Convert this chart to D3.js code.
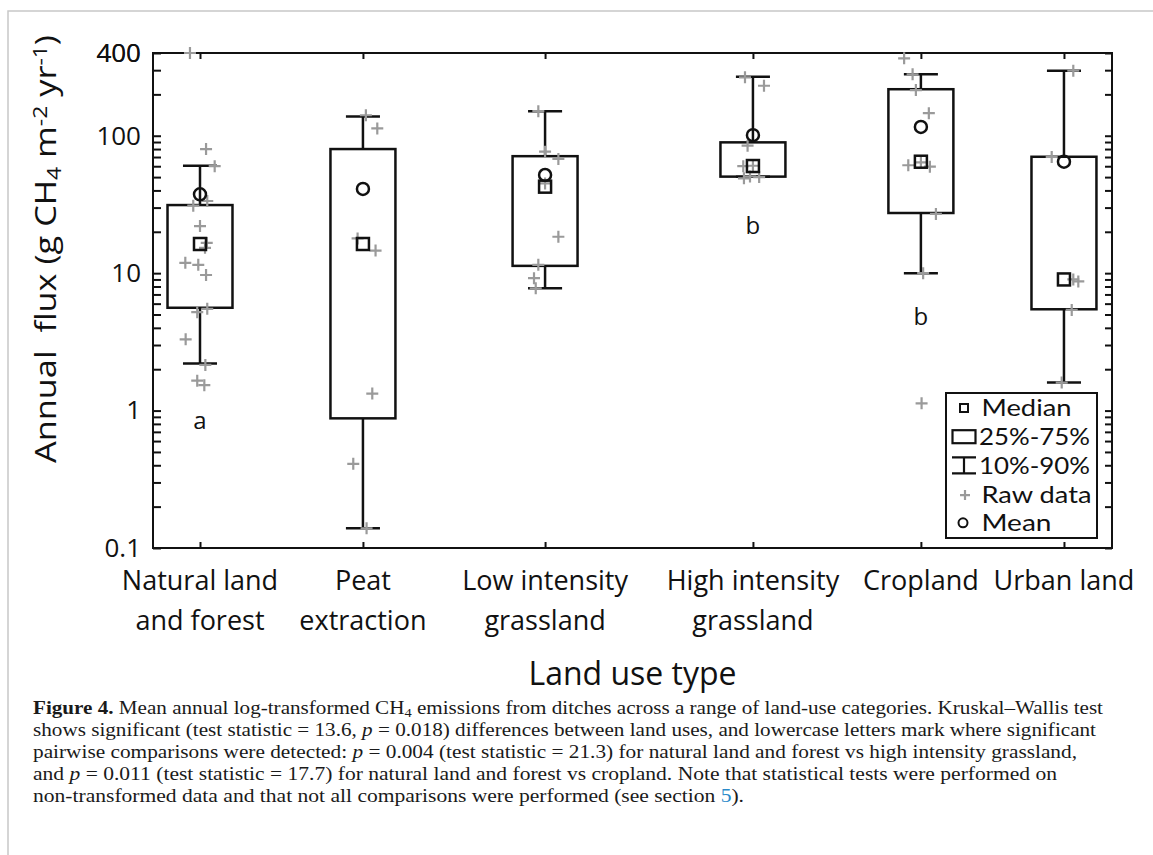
<!DOCTYPE html>
<html>
<head>
<meta charset="utf-8">
<script src="https://cdn.jsdelivr.net/npm/d3@7"></script>
<style>
  html, body { margin: 0; padding: 0; background: #fff; }
  svg { display: block; }
</style>
</head>
<body>
<svg id="chart" width="1153" height="855"></svg>
<script>
// ---------------- DATA ----------------
const categories = [
  ["Natural land", "and forest"],
  ["Peat", "extraction"],
  ["Low intensity", "grassland"],
  ["High intensity", "grassland"],
  ["Cropland"],
  ["Urban land"]
];
// category positions along the x axis (axis units)
const catPos = [1.0, 1.943, 2.997, 4.2, 5.172, 6.0];

// box statistics (g CH4 m-2 yr-1)
const p10    = [2.2,  0.139, 7.75, 50.4, 10.0, 1.6];
const q25    = [5.6,  0.878, 11.3, 50.4, 27.4, 5.46];
const median = [16.3, 16.3,  42.6, 60.2, 64.7, 9.0];
const q75    = [31.3, 80.0,  71.0, 89.5, 218,  70.3];
const p90    = [60.5, 138,   151,  269,  280,  297];
const mean   = [37.5, 41.0,  51.8, 101,  116,  64.7];

// raw data: [value, x offset from category position in axis units]
const rawNatural = [[400,-0.058],[80,0.035],[60,0.085],[33.5,0.042],[31,-0.039],[22,0],[16.6,0.039],[15.3,0.029],
                    [11.9,-0.085],[11.5,-0.01],[9.7,0.035],[5.5,0.042],[5.2,-0.016],[3.3,-0.083],[2.15,0.031],[1.65,-0.016],[1.53,0.025]];
const rawPeat    = [[141,0.017],[113,0.083],[17.9,-0.031],[14.6,0.073],[1.33,0.054],[0.41,-0.056],[0.139,0.021]];
const rawLow     = [[151,-0.039],[76.5,0],[67.7,0.077],[45,0],[18.4,0.077],[11.5,-0.039],[9.2,-0.064],[7.75,-0.054]];
const rawHigh    = [[266,-0.046],[231,0.064],[84.6,-0.031],[60,-0.056],[60.5,0],[49,-0.052],[50,0.036],[50.5,-0.017]];
const rawCrop    = [[366,-0.097],[280,-0.048],[215,-0.029],[146,0.046],[61,-0.073],[64,0],[59.5,0.052],[27,0.087],[10,0.013],[1.13,0.004]];
const rawUrban   = [[297,0.054],[70,-0.071],[9.0,0.054],[8.7,0.083],[5.4,0.045],[1.6,-0.013]];
const rawData = [rawNatural, rawPeat, rawLow, rawHigh, rawCrop, rawUrban];

// significance letters and their anchor values
const letters     = ["a", "", "", "b", "b", ""];
const letterValue = [0.85, null, null, 22.4, 4.82, null];

const yTickLabels = [0.1, 1, 10, 100, 400];
const legendItems = ["Median", "25%-75%", "10%-90%", "Raw data", "Mean"];

const captionLines = [
  [["Figure 4.","b"],[" Mean annual log-transformed CH",""],["4","sub"],[" emissions from ditches across a range of land-use categories. Kruskal–Wallis test",""]],
  [["shows significant (test statistic = 13.6, ",""],["p","i"],[" = 0.018) differences between land uses, and lowercase letters mark where significant",""]],
  [["pairwise comparisons were detected: ",""],["p","i"],[" = 0.004 (test statistic = 21.3) for natural land and forest vs high intensity grassland,",""]],
  [["and ",""],["p","i"],[" = 0.011 (test statistic = 17.7) for natural land and forest vs cropland. Note that statistical tests were performed on",""]],
  [["non-transformed data and that not all comparisons were performed (see section ",""],["5","link"],[").",""]]
];

// ---------------- LAYOUT ----------------
const W = 1153, H = 855;
const margin = {top: 53, right: 41, bottom: 307, left: 153};
const plotW = W - margin.left - margin.right;
const plotH = H - margin.top - margin.bottom;
const FONT = "'Open Sans', 'Noto Sans', sans-serif";
const LFONT = "Lato, 'Open Sans', sans-serif";
const captionWidths = [1070, 1063, 1044, 1024, 711];
const legendWidths = [90, 111, 111, 110, 70];

const svg = d3.select("#chart");

// outer figure frame (journal page)
svg.append("path").attr("d", `M8,${H} V11 H${W}`)
  .attr("fill","none").attr("stroke","#c8c8c8").attr("stroke-width",1.5);

const g = svg.append("g").attr("transform", `translate(${margin.left},${margin.top})`);

const x = d3.scaleLinear().domain([0.728, 6.278]).range([0, plotW]);
const y = d3.scaleLog().domain([0.1, 400]).range([plotH, 0]);

const boxW = x(0.376) - x(0);
const capW = x(0.197) - x(0);

// minor + major ticks
const yTicks = [];
[0.1, 1, 10, 100].forEach(d => { for (let k = 1; k <= 9; k++) { const v = +(k*d).toPrecision(3); if (v <= 400) yTicks.push(v); } });

const yAxisL = d3.axisLeft(y).tickValues(yTicks).tickSize(-8).tickSizeOuter(0).tickPadding(12)
  .tickFormat(d => yTickLabels.includes(d) ? d3.format("~g")(d) : "");
const gyl = g.append("g").call(yAxisL);
gyl.selectAll("text").attr("font-family", FONT).attr("font-size", 26).attr("fill","#111");
// extra 400 label at the top limit
gyl.append("text").attr("x", -12).attr("y", y(400)).attr("dy","0.36em")
  .attr("text-anchor","end").attr("font-family", FONT).attr("font-size", 26).attr("fill","#111").text("400");

const gyr = g.append("g").attr("transform", `translate(${plotW},0)`)
  .call(d3.axisRight(y).tickValues(yTicks).tickSize(-7).tickSizeOuter(0).tickFormat(""));
const gxt = g.append("g").call(d3.axisTop(x).tickValues(catPos).tickSize(-6).tickSizeOuter(0).tickFormat(""));
const gxb = g.append("g").attr("transform", `translate(0,${plotH})`)
  .call(d3.axisBottom(x).tickValues(catPos).tickSize(-6).tickSizeOuter(0).tickFormat(""));
[gyl, gyr, gxt, gxb].forEach(a => {
  a.select(".domain").remove();
  a.selectAll(".tick line").attr("stroke","#111").attr("stroke-width",2);
});

// frame
g.append("rect").attr("width", plotW).attr("height", plotH)
  .attr("fill","none").attr("stroke","#111").attr("stroke-width",2);

// x category labels
categories.forEach((lines, i) => {
  const t = g.append("text").attr("x", x(catPos[i])).attr("y", plotH + 42)
    .attr("text-anchor","middle").attr("font-family", FONT).attr("font-size", 27).attr("fill","#111");
  lines.forEach((l, j) => t.append("tspan").attr("x", x(catPos[i])).attr("dy", j === 0 ? 0 : 40).text(l));
});

// axis titles
g.append("text").attr("x", plotW/2).attr("y", plotH + 137).attr("text-anchor","middle")
  .attr("font-family", FONT).attr("font-size", 32).attr("fill","#111").text("Land use type");

const yl = svg.append("text").attr("transform", "translate(56,249) rotate(-90)")
  .attr("text-anchor","middle").attr("font-family", FONT).attr("font-size", 30).attr("fill","#111")
  .attr("textLength", 428).attr("lengthAdjust","spacingAndGlyphs");
yl.append("tspan").text("Annual\u00a0\u00a0flux (g CH");
yl.append("tspan").attr("font-size", 20).attr("baseline-shift","-25%").text("4");
yl.append("tspan").text(" m");
yl.append("tspan").attr("font-size", 20).attr("baseline-shift","45%").text("-2");
yl.append("tspan").text(" yr");
yl.append("tspan").attr("font-size", 20).attr("baseline-shift","45%").text("-1");
yl.append("tspan").text(")");

// ---------------- MARKS ----------------
const STROKE = "#111", SW = 2.5, GREY = "#9a9a9a";
const plus = (sel, cx, cy, r) => sel.append("path")
  .attr("d", `M${cx-r},${cy}H${cx+r}M${cx},${cy-r}V${cy+r}`)
  .attr("stroke", GREY).attr("stroke-width", 2.2).attr("fill","none");

categories.forEach((c, i) => {
  const cx = x(catPos[i]);
  const gb = g.append("g");
  // whiskers
  gb.append("line").attr("x1",cx).attr("x2",cx).attr("y1",y(q75[i])).attr("y2",y(p90[i]))
    .attr("stroke",STROKE).attr("stroke-width",SW);
  gb.append("line").attr("x1",cx).attr("x2",cx).attr("y1",y(q25[i])).attr("y2",y(p10[i]))
    .attr("stroke",STROKE).attr("stroke-width",SW);
  [p10[i], p90[i]].forEach(v => gb.append("line").attr("x1",cx-capW/2).attr("x2",cx+capW/2)
    .attr("y1",y(v)).attr("y2",y(v)).attr("stroke",STROKE).attr("stroke-width",SW));
  // box
  gb.append("rect").attr("x",cx-boxW/2).attr("width",boxW).attr("y",y(q75[i])).attr("height",y(q25[i])-y(q75[i]))
    .attr("fill","none").attr("stroke",STROKE).attr("stroke-width",SW);
  // raw data
  rawData[i].forEach(([v, dx]) => plus(gb, x(catPos[i] + dx), y(v), 6));
  // median & mean
  gb.append("rect").attr("x",cx-6).attr("y",y(median[i])-6).attr("width",12).attr("height",12)
    .attr("fill","none").attr("stroke",STROKE).attr("stroke-width",SW);
  gb.append("circle").attr("cx",cx).attr("cy",y(mean[i])).attr("r",6)
    .attr("fill","none").attr("stroke",STROKE).attr("stroke-width",SW);
  // letters
  if (letters[i]) gb.append("text").attr("x",cx).attr("y",y(letterValue[i])).attr("dy","0.36em")
    .attr("text-anchor","middle").attr("font-family",FONT).attr("font-size",24).attr("fill","#111").text(letters[i]);
});

// ---------------- LEGEND ----------------
const lg = svg.append("g").attr("transform","translate(946,393)");
lg.append("rect").attr("width",151).attr("height",145).attr("fill","#fff").attr("stroke",STROKE).attr("stroke-width",2);
const rowY = i => 15 + i*28.7;
const sx = 18;
legendItems.forEach((t, i) => {
  lg.append("text").attr("x", i === 1 || i === 2 ? 33 : 35.5).attr("y", rowY(i)).attr("dy","0.36em")
    .attr("font-family",LFONT).attr("font-size",23.5).attr("fill","#111")
    .attr("textLength", legendWidths[i]).attr("lengthAdjust","spacingAndGlyphs").text(t);
});
lg.append("rect").attr("x",sx-4).attr("y",rowY(0)-4).attr("width",8).attr("height",8)
  .attr("fill","none").attr("stroke",STROKE).attr("stroke-width",2);
lg.append("rect").attr("x",sx-11.5).attr("y",rowY(1)-6.5).attr("width",23).attr("height",13)
  .attr("fill","none").attr("stroke",STROKE).attr("stroke-width",2.2);
lg.append("path").attr("d",`M${sx-12},${rowY(2)-8}H${sx+12}M${sx},${rowY(2)-8}V${rowY(2)+8}M${sx-12},${rowY(2)+8}H${sx+12}`)
  .attr("fill","none").attr("stroke",STROKE).attr("stroke-width",2.2);
plus(lg, sx+1, rowY(3)+1, 5);
lg.append("circle").attr("cx",sx-1).attr("cy",rowY(4)).attr("r",4.5)
  .attr("fill","none").attr("stroke",STROKE).attr("stroke-width",2);

// ---------------- CAPTION ----------------
captionLines.forEach((segs, i) => {
  const t = svg.append("text").attr("x", 33).attr("y", 714 + i*22)
    .attr("font-family","'Liberation Serif', 'DejaVu Serif', serif").attr("font-size",19).attr("fill","#1a1a1a")
    .attr("textLength", captionWidths[i]).attr("lengthAdjust","spacingAndGlyphs");
  segs.forEach(([s, st]) => {
    const ts = t.append("tspan").text(s);
    if (st === "b") ts.attr("font-weight","bold");
    if (st === "i") ts.attr("font-style","italic");
    if (st === "sub") ts.attr("font-size",13).attr("baseline-shift","-20%");
    if (st === "link") ts.attr("fill","#2a8ac9");
  });
});
</script>
</body>
</html>
